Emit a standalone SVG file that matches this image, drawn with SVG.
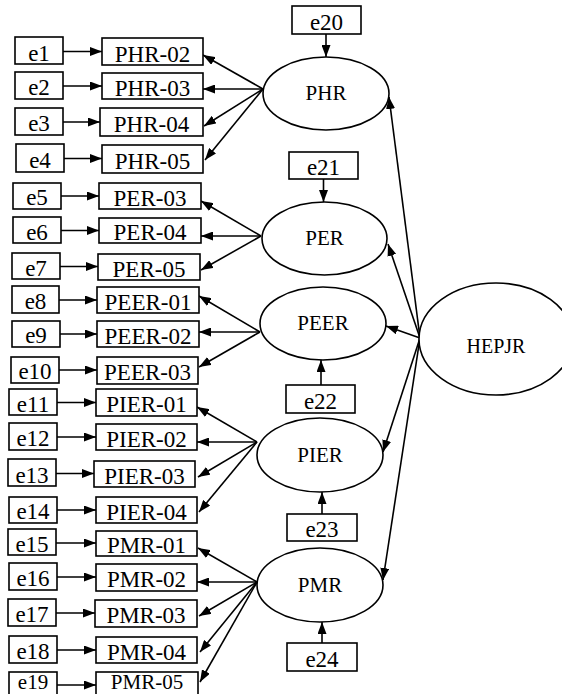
<svg xmlns="http://www.w3.org/2000/svg" width="562" height="694" viewBox="0 0 562 694">
<style>
rect{fill:#fff;stroke:#000;stroke-width:1.6}
ellipse{fill:#fff;stroke:#000;stroke-width:1.6}
line{stroke:#000;stroke-width:1.6;marker-end:url(#ah)}
text{font-family:"Liberation Serif","Times New Roman",serif;fill:#000;text-anchor:middle}
.b{font-size:23px}
.s{font-size:21px}
.l{font-size:21px}
.h{font-size:20px}
</style>
<defs>
<marker id="ah" markerUnits="userSpaceOnUse" markerWidth="13" markerHeight="9" refX="12" refY="4.5" orient="auto" viewBox="0 0 13 9">
<path d="M0,0 L12,4.5 L0,9 z" fill="#000"/>
</marker>
</defs>
<g id="connectors">
<line x1="63" y1="51.5" x2="102" y2="51.5"/>
<line x1="63" y1="86" x2="102" y2="86"/>
<line x1="63" y1="122" x2="100" y2="122"/>
<line x1="64" y1="158.5" x2="102" y2="158.5"/>
<line x1="61" y1="196" x2="99" y2="196"/>
<line x1="61" y1="230.5" x2="99" y2="230.5"/>
<line x1="60" y1="266.5" x2="98" y2="266.5"/>
<line x1="59" y1="300" x2="97" y2="300"/>
<line x1="60" y1="334" x2="97" y2="334"/>
<line x1="59" y1="370" x2="97" y2="370"/>
<line x1="57" y1="402.5" x2="96" y2="402.5"/>
<line x1="57" y1="437" x2="96" y2="437"/>
<line x1="56" y1="473.5" x2="94" y2="473.5"/>
<line x1="57" y1="510" x2="96" y2="510"/>
<line x1="56" y1="543" x2="96" y2="543"/>
<line x1="57" y1="577" x2="96" y2="577"/>
<line x1="56" y1="613" x2="95" y2="613"/>
<line x1="57" y1="650" x2="96" y2="650"/>
<line x1="57" y1="685" x2="96" y2="685"/>
<line x1="263" y1="89" x2="203" y2="55"/>
<line x1="263" y1="89" x2="203" y2="89"/>
<line x1="263" y1="89" x2="204" y2="126"/>
<line x1="263" y1="89" x2="205" y2="160"/>
<line x1="261" y1="236" x2="201" y2="201"/>
<line x1="261" y1="236" x2="201" y2="236"/>
<line x1="261" y1="236" x2="201" y2="270"/>
<line x1="260" y1="332" x2="199" y2="296"/>
<line x1="260" y1="332" x2="199" y2="332"/>
<line x1="260" y1="332" x2="199" y2="367"/>
<line x1="257" y1="442" x2="197" y2="407"/>
<line x1="257" y1="442" x2="197" y2="442"/>
<line x1="257" y1="442" x2="198" y2="477"/>
<line x1="257" y1="442" x2="199" y2="512"/>
<line x1="257" y1="582" x2="198" y2="548"/>
<line x1="257" y1="582" x2="197" y2="582"/>
<line x1="257" y1="582" x2="199" y2="616"/>
<line x1="257" y1="582" x2="200" y2="652"/>
<line x1="257" y1="582" x2="200" y2="682"/>
<line x1="326" y1="34" x2="326" y2="57"/>
<line x1="323.5" y1="179" x2="323.5" y2="202"/>
<line x1="321" y1="385" x2="321" y2="360"/>
<line x1="322" y1="514" x2="322" y2="492"/>
<line x1="322" y1="643" x2="322" y2="622"/>
<line x1="420" y1="338" x2="389" y2="97"/>
<line x1="420" y1="338" x2="388" y2="244"/>
<line x1="420" y1="338" x2="386" y2="326"/>
<line x1="420" y1="338" x2="383" y2="452"/>
<line x1="420" y1="338" x2="383" y2="580"/>
</g>
<g id="e1"><rect x="15" y="37" width="48" height="27"/><text class="b" x="39" y="60.5">e1</text></g>
<g id="e2"><rect x="15" y="72" width="48" height="27"/><text class="b" x="39" y="95">e2</text></g>
<g id="e3"><rect x="15" y="108" width="48" height="27"/><text class="b" x="39" y="131">e3</text></g>
<g id="e4"><rect x="16" y="144" width="48" height="28"/><text class="b" x="40" y="168">e4</text></g>
<g id="e5"><rect x="13" y="183" width="48" height="26"/><text class="b" x="37" y="205">e5</text></g>
<g id="e6"><rect x="13" y="217" width="48" height="26"/><text class="b" x="37" y="239.5">e6</text></g>
<g id="e7"><rect x="12" y="253" width="48" height="26"/><text class="b" x="36" y="275.5">e7</text></g>
<g id="e8"><rect x="12" y="286" width="47" height="27"/><text class="b" x="35.5" y="309">e8</text></g>
<g id="e9"><rect x="12" y="321" width="48" height="26"/><text class="b" x="36" y="343">e9</text></g>
<g id="e10"><rect x="11" y="357" width="48" height="26"/><text class="b" x="35" y="379">e10</text></g>
<g id="e11"><rect x="9" y="389" width="48" height="26"/><text class="b" x="33" y="411.5">e11</text></g>
<g id="e12"><rect x="9" y="423" width="48" height="27"/><text class="b" x="33" y="446">e12</text></g>
<g id="e13"><rect x="8" y="459" width="48" height="27"/><text class="b" x="32" y="482.5">e13</text></g>
<g id="e14"><rect x="9" y="497" width="48" height="26"/><text class="b" x="33" y="519">e14</text></g>
<g id="e15"><rect x="8" y="529" width="48" height="26"/><text class="b" x="32" y="552">e15</text></g>
<g id="e16"><rect x="9" y="563" width="48" height="27"/><text class="b" x="33" y="586">e16</text></g>
<g id="e17"><rect x="8" y="599" width="48" height="27"/><text class="b" x="32" y="622">e17</text></g>
<g id="e18"><rect x="9" y="636" width="48" height="27"/><text class="b" x="33" y="659">e18</text></g>
<g id="e19"><rect x="9" y="672" width="48" height="27"/><text class="s" x="33" y="689">e19</text></g>
<g id="PHR-02"><rect x="102" y="38" width="101" height="27"/><text class="b" x="152.5" y="61.5">PHR-02</text></g>
<g id="PHR-03"><rect x="102" y="73" width="101" height="26"/><text class="b" x="152.5" y="95.5">PHR-03</text></g>
<g id="PHR-04"><rect x="100" y="108" width="103" height="28"/><text class="b" x="151.5" y="132">PHR-04</text></g>
<g id="PHR-05"><rect x="102" y="145" width="101" height="28"/><text class="b" x="152.5" y="169">PHR-05</text></g>
<g id="PER-03"><rect x="99" y="183" width="102" height="26"/><text class="b" x="150" y="205.5">PER-03</text></g>
<g id="PER-04"><rect x="99" y="218" width="102" height="25"/><text class="b" x="150" y="240">PER-04</text></g>
<g id="PER-05"><rect x="98" y="254" width="102" height="26"/><text class="b" x="149" y="276.5">PER-05</text></g>
<g id="PEER-01"><rect x="97" y="287" width="102" height="26"/><text class="b" x="148" y="309.5">PEER-01</text></g>
<g id="PEER-02"><rect x="97" y="321" width="102" height="26"/><text class="b" x="148" y="343.5">PEER-02</text></g>
<g id="PEER-03"><rect x="97" y="357" width="101" height="27"/><text class="b" x="147.5" y="380">PEER-03</text></g>
<g id="PIER-01"><rect x="96" y="389" width="101" height="27"/><text class="b" x="146.5" y="412">PIER-01</text></g>
<g id="PIER-02"><rect x="96" y="424" width="101" height="26"/><text class="b" x="146.5" y="446.5">PIER-02</text></g>
<g id="PIER-03"><rect x="94" y="461" width="101" height="26"/><text class="b" x="144.5" y="483.5">PIER-03</text></g>
<g id="PIER-04"><rect x="96" y="497" width="101" height="26"/><text class="b" x="146.5" y="519.5">PIER-04</text></g>
<g id="PMR-01"><rect x="96" y="531" width="101" height="25"/><text class="b" x="146.5" y="552.5">PMR-01</text></g>
<g id="PMR-02"><rect x="96" y="564" width="101" height="27"/><text class="b" x="146.5" y="587">PMR-02</text></g>
<g id="PMR-03"><rect x="95" y="600" width="102" height="27"/><text class="b" x="146" y="623">PMR-03</text></g>
<g id="PMR-04"><rect x="96" y="637" width="101" height="26"/><text class="b" x="146.5" y="659.5">PMR-04</text></g>
<g id="PMR-05"><rect x="96" y="672" width="102" height="27"/><text class="s" x="147" y="689">PMR-05</text></g>
<g id="PHR"><ellipse cx="326" cy="93.5" rx="63" ry="36.5"/><text class="l" x="326" y="100">PHR</text></g>
<g id="PER"><ellipse cx="324.5" cy="238.5" rx="62.5" ry="36.5"/><text class="l" x="324.5" y="245">PER</text></g>
<g id="PEER"><ellipse cx="323" cy="323.5" rx="63" ry="36.5"/><text class="l" x="323" y="330">PEER</text></g>
<g id="PIER"><ellipse cx="320" cy="455" rx="63" ry="37"/><text class="l" x="320" y="461.5">PIER</text></g>
<g id="PMR"><ellipse cx="320" cy="585" rx="63" ry="37"/><text class="l" x="320" y="591.5">PMR</text></g>
<g id="HEPJR"><ellipse cx="496" cy="339" rx="77" ry="56"/><text class="h" x="496" y="353">HEPJR</text></g>
<g id="e20"><rect x="292" y="6" width="69" height="28"/><text class="b" x="326.5" y="29.5">e20</text></g>
<g id="e21"><rect x="289" y="152" width="69" height="27"/><text class="b" x="323.5" y="175">e21</text></g>
<g id="e22"><rect x="286" y="385" width="69" height="28"/><text class="b" x="320.5" y="408.5">e22</text></g>
<g id="e23"><rect x="287" y="514" width="70" height="27"/><text class="b" x="322" y="537">e23</text></g>
<g id="e24"><rect x="287" y="643" width="70" height="28"/><text class="b" x="322" y="666.5">e24</text></g>
</svg>
